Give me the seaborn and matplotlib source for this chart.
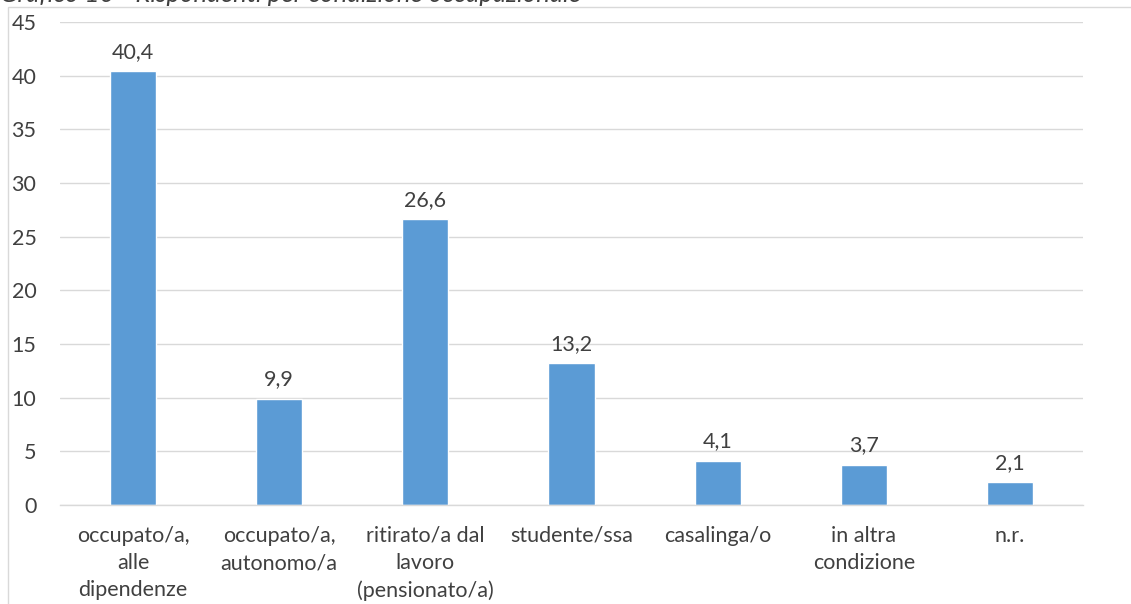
import matplotlib
matplotlib.use('Agg')
import matplotlib.pyplot as plt
from matplotlib.patches import Rectangle
import seaborn as sns
import pandas as pd

categories = [
    'occupato/a,\nalle\ndipendenze',
    'occupato/a,\nautonomo/a',
    'ritirato/a dal\nlavoro\n(pensionato/a)',
    'studente/ssa',
    'casalinga/o',
    'in altra\ncondizione',
    'n.r.',
]
values = [40.4, 9.9, 26.6, 13.2, 4.1, 3.7, 2.1]
y_ticks = [0, 5, 10, 15, 20, 25, 30, 35, 40, 45]
title = 'Grafico 10 - Rispondenti per condizione occupazionale'

BAR = '#5B9BD5'
TXT = '#404040'
GRID = '#D9D9D9'
FS = 15.5

sns.set_style('white')
plt.rcParams['font.family'] = ['Lato', 'DejaVu Sans']

df = pd.DataFrame({'cat': categories, 'val': values})

fig = plt.figure(figsize=(11.31, 6.04), dpi=100)
ax = fig.add_axes([60 / 1131, 1 - 505 / 604, 1023 / 1131, 483 / 604])

sns.barplot(data=df, x='cat', y='val', color=BAR, saturation=1, width=0.315, ax=ax)

ax.set_ylim(0, 45)
ax.set_xlim(-0.5, len(categories) - 0.5)
ax.set_yticks(y_ticks)
ax.set_yticklabels([str(t) for t in y_ticks], fontsize=FS, color=TXT)
ax.tick_params(axis='y', length=0, pad=17)
ax.set_xticks(range(len(categories)))
ax.set_xticklabels(categories, fontsize=FS, color=TXT, linespacing=1.45)
ax.tick_params(axis='x', length=0, pad=15)
ax.yaxis.grid(True, color=GRID, linewidth=1)
ax.set_axisbelow(True)
ax.set_xlabel('')
ax.set_ylabel('')
for s in ['top', 'right', 'left']:
    ax.spines[s].set_visible(False)
ax.spines['bottom'].set_color(GRID)
ax.spines['bottom'].set_linewidth(1)

for c in ax.containers:
    ax.bar_label(c, labels=[f'{v:.1f}'.replace('.', ',') for v in values],
                 padding=7, fontsize=FS, color=TXT)

# chart frame, cropped like the source screenshot
fig.patches.append(Rectangle((8 / 1131, -0.1), 1.2, 1.1 - 7 / 604,
                             transform=fig.transFigure, fill=False,
                             edgecolor=GRID, linewidth=1))

fig.text(0.0, 1 - 2 / 604, title, fontsize=18.5, style='italic', color=TXT,
         ha='left', va='baseline')

fig.savefig('out.png', dpi=100)
